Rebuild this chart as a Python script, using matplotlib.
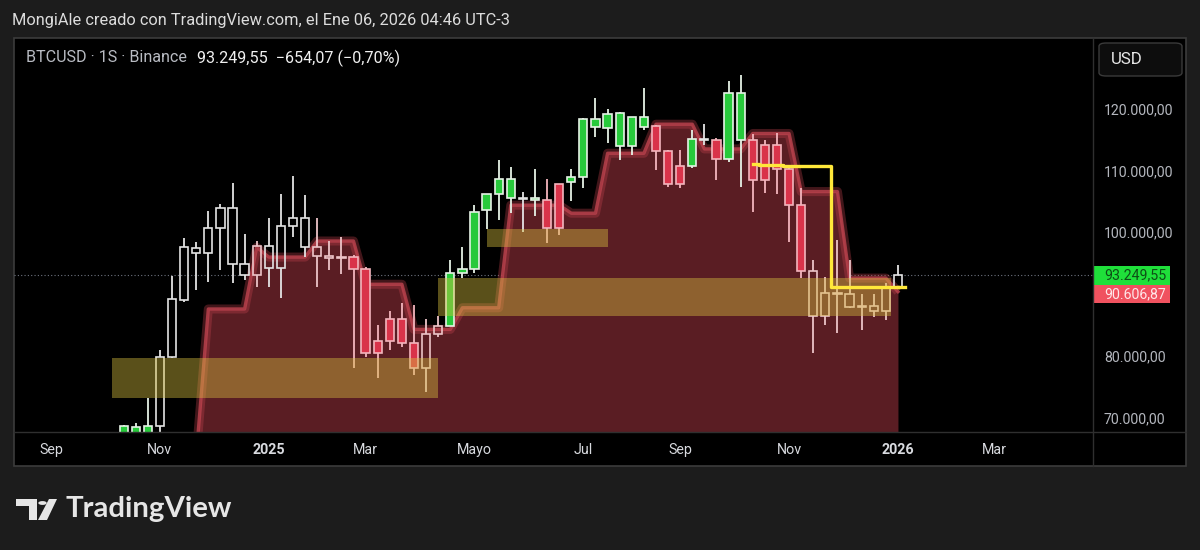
import numpy as np
import pandas as pd
import matplotlib
matplotlib.use("Agg")
import matplotlib.pyplot as plt
from matplotlib.patches import Rectangle, FancyBboxPatch, Polygon, Circle

# ---------------- data (prices in thousands of USD) ----------------
axis_origin = "2024-09-02"          # first weekly bar on the time axis
bar_dates = pd.date_range("2024-10-14", "2026-01-05", freq="W-MON")

opens = [63.0, 67.0, 67.2, 68.8, 80.0, 89.3, 97.7, 96.8, 100.9, 104.1, 95.1, 93.3, 98.0, 94.5,
         101.3, 102.6, 97.8, 96.4, 96.1, 96.2, 94.3, 80.7, 82.6, 86.1, 82.3, 78.3, 83.7, 85.1,
         93.7, 94.2, 103.8, 106.4, 108.9, 105.7, 105.4, 105.4, 100.9, 108.3, 109.1, 118.5, 117.1,
         119.5, 114.1, 118.9, 117.4, 113.3, 108.1, 111.0, 115.3, 115.2, 112.0, 122.8, 115.1, 108.7,
         114.3, 110.4, 104.6, 94.0, 86.7, 90.4, 90.2, 88.1, 88.3, 87.5, 91.3]
highs = [69.0, 69.3, 73.4, 81.2, 93.1, 99.3, 98.7, 103.6, 104.8, 108.2, 99.9, 98.8, 102.6, 106.4,
         109.3, 106.2, 102.6, 98.8, 99.5, 96.5, 94.6, 85.2, 87.4, 88.7, 88.5, 86.1, 86.6, 95.7,
         97.9, 104.6, 106.4, 111.9, 110.7, 106.8, 110.4, 108.8, 108.1, 110.4, 118.7, 121.9, 120.1,
         119.6, 118.9, 123.5, 117.5, 113.5, 113.5, 116.8, 117.8, 115.4, 124.7, 125.7, 116.1, 115.1,
         116.2, 110.6, 107.3, 95.8, 93.0, 98.9, 95.7, 90.2, 90.2, 92.0, 94.9]
lows = [62.4, 65.1, 66.8, 66.8, 79.8, 89.0, 90.8, 92.2, 94.1, 92.0, 92.5, 91.3, 91.3, 89.5,
        99.5, 96.2, 91.3, 94.1, 93.4, 78.2, 80.0, 76.6, 81.2, 81.6, 77.1, 74.4, 83.2, 85.0,
        92.8, 93.6, 100.7, 102.2, 103.3, 100.3, 102.8, 98.4, 99.8, 105.2, 107.3, 115.7, 114.7,
        111.9, 112.7, 116.8, 110.3, 107.5, 107.3, 110.6, 114.3, 108.7, 111.6, 107.5, 103.5, 106.5,
        106.4, 98.7, 92.8, 80.6, 85.2, 83.9, 87.9, 84.4, 86.5, 86.0, 91.2]
closes = [68.8, 68.7, 68.8, 80.0, 89.4, 97.8, 96.8, 100.9, 104.1, 95.1, 93.3, 98.0, 94.5, 101.3,
          102.6, 97.8, 96.4, 96.1, 96.2, 94.3, 80.7, 82.6, 86.1, 82.3, 78.3, 83.7, 85.1, 93.7,
          94.2, 103.5, 106.4, 108.9, 105.7, 105.6, 105.7, 100.9, 108.1, 109.1, 118.5, 117.2, 119.3,
          114.1, 118.9, 117.3, 113.3, 108.1, 111.0, 115.3, 115.2, 112.0, 122.8, 115.1, 108.7, 114.3,
          110.4, 104.6, 94.0, 86.7, 90.4, 90.2, 88.1, 88.3, 87.5, 91.3, 93.24955]
# candle colouring from the indicator: g = green, r = red, w = hollow/neutral
styles = ["g", "g", "g", "w", "w", "w", "w", "w", "w", "w", "w", "w", "w", "w",
          "w", "w", "w", "w", "w", "r", "r", "r", "r", "r", "r", "w", "w", "g",
          "g", "g", "g", "g", "g", "w", "g", "r", "r", "g", "g", "g", "g",
          "g", "g", "g", "r", "r", "r", "g", "w", "r", "g", "g", "r", "r",
          "r", "r", "r", "w", "w", "w", "w", "w", "w", "w", "w"]

# stepped resistance envelope (red area), from week 2024-11-25 to 2026-01-05
env_dates = pd.date_range("2024-11-25", "2026-01-05", freq="W-MON")
env_values = [64.0, 87.8, 87.8, 87.8, 87.8, 97.8, 96.2, 96.2, 96.2, 96.2,
              98.8, 98.8, 98.8, 98.8, 91.8, 91.8, 91.8, 91.8, 84.5, 84.5,
              84.5, 84.5, 88.0, 88.0, 88.0, 88.0, 104.6, 104.6, 104.6, 104.6,
              104.6, 103.3, 103.3, 103.3, 113.0, 113.0, 113.0, 113.0, 117.7, 117.7,
              117.7, 117.7, 113.7, 113.7, 113.7, 113.7, 116.2, 116.2, 116.2, 116.2,
              106.8, 106.8, 106.8, 106.8, 92.8, 92.8, 92.8, 92.8, 90.60687]

# yellow step line
yellow_dates = pd.date_range("2025-10-13", "2026-01-05", freq="W-MON")
yellow_values = [111.25, 111.1, 111.1, 110.9, 110.9, 110.9, 110.9,
                 91.4, 91.4, 91.4, 91.4, 91.4, 91.4]

# yellow zones: start, end, low, high
zone_starts = ["2024-10-07", "2025-04-14", "2025-05-12"]
zone_ends = ["2025-04-14", "2026-01-01", "2025-07-21"]
zone_lows = [73.4, 86.6, 97.8]
zone_highs = [79.8, 92.8, 100.7]

price_ticks = [70, 80, 100, 110, 120]
time_label_dates = ["2024-09-02", "2024-11-04", "2025-01-06", "2025-03-03", "2025-05-05",
                    "2025-07-07", "2025-09-01", "2025-11-03", "2026-01-05", "2026-03-02"]
time_labels = ["Sep", "Nov", "2025", "Mar", "Mayo", "Jul", "Sep", "Nov", "2026", "Mar"]
last_price = 93.24955
env_last = 90.60687

K = 1000.0
origin = pd.Timestamp(axis_origin)


def bar_index(d):
    d = pd.to_datetime(d)
    return (d - origin).days / 7.0


# ---------------- figure ----------------
plt.rcParams["font.family"] = ["Roboto", "DejaVu Sans"]
W, H = 1200, 550
fig = plt.figure(figsize=(W / 100, H / 100), dpi=100)
BG = "#1c1c1c"
fig.patch.set_facecolor(BG)


def px_axes(x0, y0, x1, y1, z=1):
    a = fig.add_axes([x0 / W, 1 - y1 / H, (x1 - x0) / W, (y1 - y0) / H])
    a.set_zorder(z)
    return a


def fx(x):
    return x / W


def fy(y):
    return 1 - y / H


CH_L, CH_T, CH_R, CH_B, AX_R, TB = 14, 38, 1093, 432, 1186, 466
ymin, ymax = 67896, 131650
xmin, xmax = -3.06, 86.12

# chart panel background + frame
fig.patches.append(Rectangle((fx(CH_L), fy(TB)), fx(AX_R - CH_L), fy(CH_T) - fy(TB),
                             transform=fig.transFigure, facecolor="#000000",
                             edgecolor="#3c3c3c", lw=1.2, zorder=-5))

ax = px_axes(CH_L, CH_T, CH_R, CH_B, z=2)
ax.set_xlim(xmin, xmax)
ax.set_ylim(ymin, ymax)
ax.axis("off")

# red envelope area
ex = np.array([bar_index(d) for d in env_dates])
ev = np.array(env_values) * K
ax.fill_between(ex, ev, ymin - 20000, color="#5a1d23", zorder=1, lw=0)
ax.plot(ex, ev, color="#c0404c", lw=6.5, alpha=0.35, zorder=1.5, solid_capstyle="butt")
ax.plot(ex, ev, color="#b8414c", lw=2.4, alpha=0.85, zorder=1.6)

# candles
bx = np.array([bar_index(d) for d in bar_dates])
bw = 0.68
fill_col = {"g": "#27c93b", "r": "#d9334a", "w": "none"}
edge_col = {"g": "#e6f2e6", "r": "#f3b5bd", "w": "#e4e4e4"}
env_at = dict(zip(np.round(ex, 3), ev))
for x, o, h, l, c, s in zip(bx, opens, highs, lows, closes, styles):
    o, h, l, c = o * K, h * K, l * K, c * K
    top, bot = max(o, c), min(o, c)
    ec = edge_col[s]
    lim = env_at.get(round(x, 3), -1)
    if s == "w" and (top + bot) / 2 < lim:
        ec = "#ecc4c8"          # neutral candle seen through the red area
    ax.vlines(x, top, h, color=ec, lw=1.3, zorder=3)
    ax.vlines(x, l, bot, color=ec, lw=1.3, zorder=3)
    height = max(top - bot, 120)
    ax.add_patch(Rectangle((x - bw / 2, bot), bw, height, facecolor=fill_col[s],
                           edgecolor=ec, lw=1.2, zorder=3.2))

# yellow zones
for s, e, lo, hi in zip(zone_starts, zone_ends, zone_lows, zone_highs):
    x0, x1 = bar_index(s), bar_index(e)
    ax.add_patch(Rectangle((x0, lo * K), x1 - x0, (hi - lo) * K, facecolor="#d8c040",
                           alpha=0.42, edgecolor="none", zorder=4))

# yellow step line
yx = np.array([bar_index(d) for d in yellow_dates])
ax.plot(yx, np.array(yellow_values) * K, drawstyle="steps-mid", color="#ffe83a",
        lw=2.4, zorder=6)
ax.plot([yx[-1], yx[-1] + 0.55], [yellow_values[-1] * K] * 2, color="#ffe83a", lw=2.4, zorder=6)

# last price dotted line
ax.axhline(last_price * K, color="#6f7480", lw=0.8, ls=(0, (1, 2)), zorder=0.5)

# price axis
pax = px_axes(CH_R, CH_T, AX_R, CH_B, z=2)
pax.set_xlim(0, AX_R - CH_R)
pax.set_ylim(CH_B, CH_T)      # pixel rows, top = CH_T
pax.axis("off")


def fmt_price(v):
    s = f"{v:,.2f}"
    return s.replace(",", "X").replace(".", ",").replace("X", ".")


def price_to_row(v):
    return CH_B - (v - ymin) / (ymax - ymin) * (CH_B - CH_T)


for t in price_ticks:
    pax.text(11, price_to_row(t * K), fmt_price(t * K), color="#b4b7be", fontsize=10.2,
             va="center", ha="left")

# price labels (green = last price, red = envelope)
row_last = price_to_row(last_price * K)
pax.add_patch(Rectangle((0, row_last - 9.5), 77, 19, facecolor="#1fe03a", edgecolor="none",
                        zorder=5))
pax.text(11, row_last, fmt_price(last_price * K), color="#0e4d16", fontsize=10.2,
         va="center", ha="left", zorder=6)
pax.add_patch(Rectangle((0, row_last + 9.5), 77, 18, facecolor="#f0525f", edgecolor="none",
                        zorder=5))
pax.text(11, row_last + 18.5, fmt_price(env_last * K), color="#ffe6e8", fontsize=10.2,
         va="center", ha="left", zorder=6)

# separators
fig.lines.append(plt.Line2D([fx(CH_R), fx(CH_R)], [fy(TB), fy(CH_T)], transform=fig.transFigure,
                            color="#2f2f2f", lw=1, zorder=3))
fig.lines.append(plt.Line2D([fx(CH_L), fx(AX_R)], [fy(CH_B), fy(CH_B)], transform=fig.transFigure,
                            color="#2f2f2f", lw=1, zorder=3))

# USD button
fig.patches.append(FancyBboxPatch((fx(1099), fy(76)), fx(83), fy(43) - fy(76),
                                  boxstyle="round,pad=0,rounding_size=0.006",
                                  transform=fig.transFigure, facecolor="#0d0d0d",
                                  edgecolor="#3a3a3a", lw=1.0, zorder=3))
fig.text(fx(1111), fy(60), "USD", color="#e8e8e8", fontsize=12.2, va="center", ha="left", zorder=4)

# time axis
tax = px_axes(CH_L, CH_B, CH_R, TB, z=2)
tax.set_xlim(xmin, xmax)
tax.set_ylim(0, 1)
tax.axis("off")
for d, lab in zip(time_label_dates, time_labels):
    bold = lab.isdigit()
    tax.text(bar_index(d), 0.47, lab, color="#d8dadf", fontsize=10.3,
             fontweight="bold" if bold else "normal", ha="center", va="center")

# header texts
fig.text(fx(12), fy(20), "MongiAle creado con TradingView.com, el Ene 06, 2026 04:46 UTC-3",
         color="#dcdcdc", fontsize=11.8, va="center", ha="left", zorder=4)
fig.text(fx(26), fy(58), "BTCUSD · 1S · Binance", color="#b8bbc2", fontsize=11.6,
         va="center", ha="left", zorder=4)
fig.text(fx(197), fy(58), "93.249,55  \u2212654,07 (\u22120,70%)", color="#f0f0f0",
         fontsize=11.6, va="center", ha="left", zorder=4)

# TradingView logo
logo_col = "#e6e6e6"
fig.patches.append(Polygon([(fx(16), fy(499)), (fx(37), fy(499)), (fx(37), fy(520)),
                            (fx(29), fy(520)), (fx(29), fy(506)), (fx(16), fy(506))],
                           closed=True, transform=fig.transFigure, facecolor=logo_col,
                           edgecolor="none"))
fig.patches.append(Circle((fx(42.5), fy(503)), 4.2 / W, transform=fig.transFigure,
                          facecolor=logo_col, edgecolor="none"))
fig.patches.append(Polygon([(fx(49), fy(499)), (fx(57), fy(499)), (fx(47), fy(520)),
                            (fx(38), fy(520))], closed=True, transform=fig.transFigure,
                           facecolor=logo_col, edgecolor="none"))
fig.text(fx(66), fy(509), "TradingView", color=logo_col, fontsize=21.2, fontweight="bold",
         va="center", ha="left", family=["Lato", "DejaVu Sans"])

fig.savefig("out.png", dpi=100, facecolor=BG)
